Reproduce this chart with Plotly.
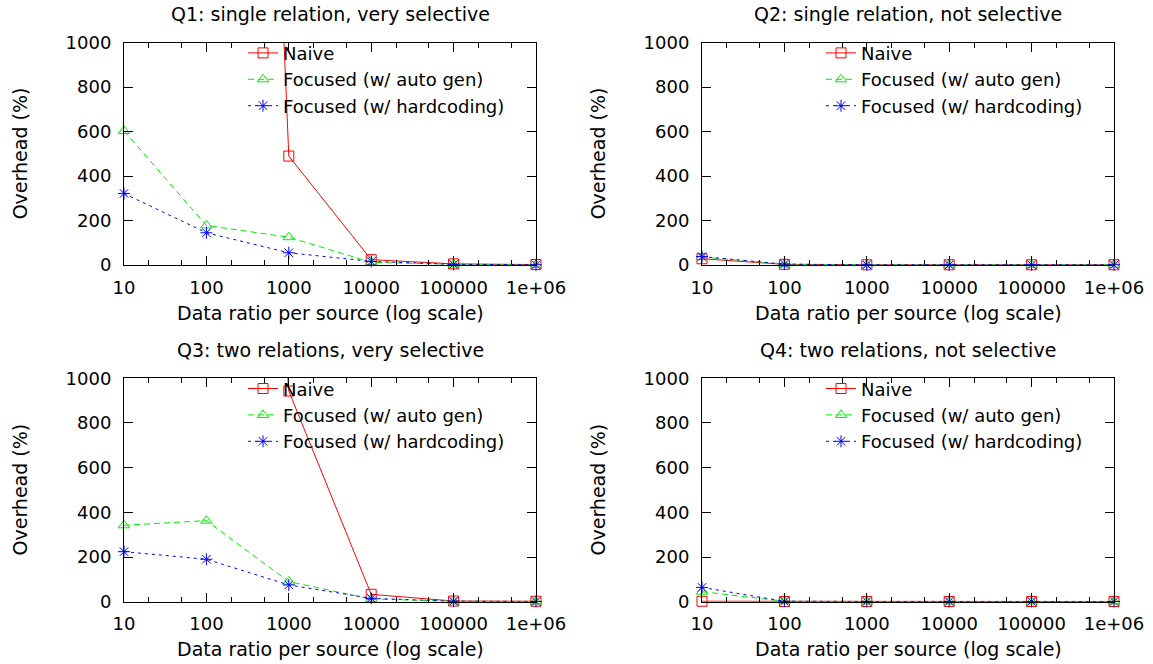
import plotly.graph_objects as go

# ---- data ----
x_vals = [10, 100, 1000, 10000, 100000, 1000000]
x_ticktext = ["10", "100", "1000", "10000", "100000", "1e+06"]
x_minor = [20, 50, 200, 500, 2000, 5000, 20000, 50000, 200000, 500000]
y_ticks = [0, 200, 400, 600, 800, 1000]

series_names = ["Naive", "Focused (w/ auto gen)", "Focused (w/ hardcoding)"]
panel_titles = [
    "Q1: single relation, very selective",
    "Q2: single relation, not selective",
    "Q3: two relations, very selective",
    "Q4: two relations, not selective",
]

q1_naive = [None, 9300, 490, 24, 5, 2]
q1_auto = [603, 178, 125, 12, 3, 1]
q1_hard = [322, 145, 55, 16, 3, 1]

q2_naive = [28, 3, 1, 1, 1, 1]
q2_auto = [36, 3, 1, 1, 1, 1]
q2_hard = [38, 4, 1, 1, 1, 1]

q3_naive = [None, 6000, 943, 33, 3, 2]
q3_auto = [342, 363, 90, 12, 2, 1]
q3_hard = [224, 190, 75, 15, 2, 1]

q4_naive = [2, 1, 1, 1, 1, 1]
q4_auto = [45, 2, 1, 1, 1, 1]
q4_hard = [64, 2, 1, 1, 1, 1]

panels = [
    [q1_naive, q1_auto, q1_hard],
    [q2_naive, q2_auto, q2_hard],
    [q3_naive, q3_auto, q3_hard],
    [q4_naive, q4_auto, q4_hard],
]

# ---- style ----
W, H = 1153, 664
FONT = "DejaVu Sans"
FS = 18
FT = 19
colors = ["#ff0000", "#00ee00", "#0000ff"]
symbols = ["square-open", "triangle-up-open", "asterisk-open"]
dashes = ["solid", "6px,4px", "3px,4px"]

# plot areas in pixels (left, right, top, bottom)
areas = [
    (124, 536, 42.7, 265),
    (702, 1114, 42.7, 265),
    (124, 536, 378.3, 601.7),
    (702, 1114, 378.3, 601.7),
]

fig = go.Figure()
annotations = []

for i, (area, data) in enumerate(zip(areas, panels)):
    l, r, t, b = area
    idx = "" if i == 0 else str(i + 1)
    xa = "xaxis" + idx
    ya = "yaxis" + idx
    leg = "legend" + idx
    for j, vals in enumerate(data):
        fig.add_trace(go.Scatter(
            x=x_vals, y=vals, name=series_names[j],
            mode="lines+markers",
            line=dict(color=colors[j], width=1, dash=dashes[j]),
            marker=dict(symbol=symbols[j], size=10, color=colors[j],
                        line=dict(color=colors[j], width=1)),
            xaxis="x" + idx, yaxis="y" + idx, legend=leg,
            cliponaxis=False, connectgaps=False,
        ))
    axis_common = dict(
        showline=True, linecolor="black", linewidth=1, mirror="allticks",
        ticks="inside", ticklen=9, tickcolor="black", tickwidth=1,
        showgrid=False, zeroline=False, automargin=False,
        tickfont=dict(family=FONT, size=FS, color="black"),
    )
    fig.update_layout(**{
        xa: dict(
            domain=[l / W, r / W], anchor="y" + idx, type="log",
            range=[1, 6], tickmode="array", tickvals=x_vals, ticktext=x_ticktext,
            minor=dict(tickmode="array", tickvals=x_minor, ticks="inside",
                       ticklen=5, tickcolor="black", showgrid=False),
            ticklabelstandoff=6,
            **axis_common),
        ya: dict(
            domain=[1 - b / H, 1 - t / H], anchor="x" + idx,
            range=[0, 1000], tickmode="array", tickvals=y_ticks,
            ticklabelstandoff=8,
            **axis_common),
        leg: dict(
            x=(r - 26) / W, xanchor="right", y=1 - (t - 8) / H, yanchor="top",
            bgcolor="rgba(0,0,0,0)", borderwidth=0,
            font=dict(family=FONT, size=FS, color="black"),
            tracegroupgap=0, itemclick=False,
        ),
    })
    cx = (l + r) / 2 / W
    annotations.append(dict(text=panel_titles[i], x=cx, y=1 - (t - 28.5) / H,
                            xref="paper", yref="paper", showarrow=False,
                            xanchor="center", yanchor="middle",
                            font=dict(family=FONT, size=FT, color="black")))
    annotations.append(dict(text="Data ratio per source (log scale)", x=cx,
                            y=1 - (b + 47.5) / H, xref="paper", yref="paper",
                            showarrow=False, xanchor="center", yanchor="middle",
                            font=dict(family=FONT, size=FT, color="black")))
    annotations.append(dict(text="Overhead (%)", x=(l - 104.5) / W,
                            y=1 - (t + b) / 2 / H, xref="paper", yref="paper",
                            showarrow=False, xanchor="center", yanchor="middle",
                            textangle=-90,
                            font=dict(family=FONT, size=FT, color="black")))

fig.update_layout(
    width=W, height=H, margin=dict(l=0, r=0, t=0, b=0, autoexpand=False),
    paper_bgcolor="white", plot_bgcolor="white",
    annotations=annotations, showlegend=True, hovermode=False,
    font=dict(family=FONT, size=FS, color="black"),
)

fig.write_html("out.html",
               config={"displayModeBar": False, "staticPlot": True},
               post_script="document.body.style.margin='0';"
                           "document.body.style.overflow='hidden';")
